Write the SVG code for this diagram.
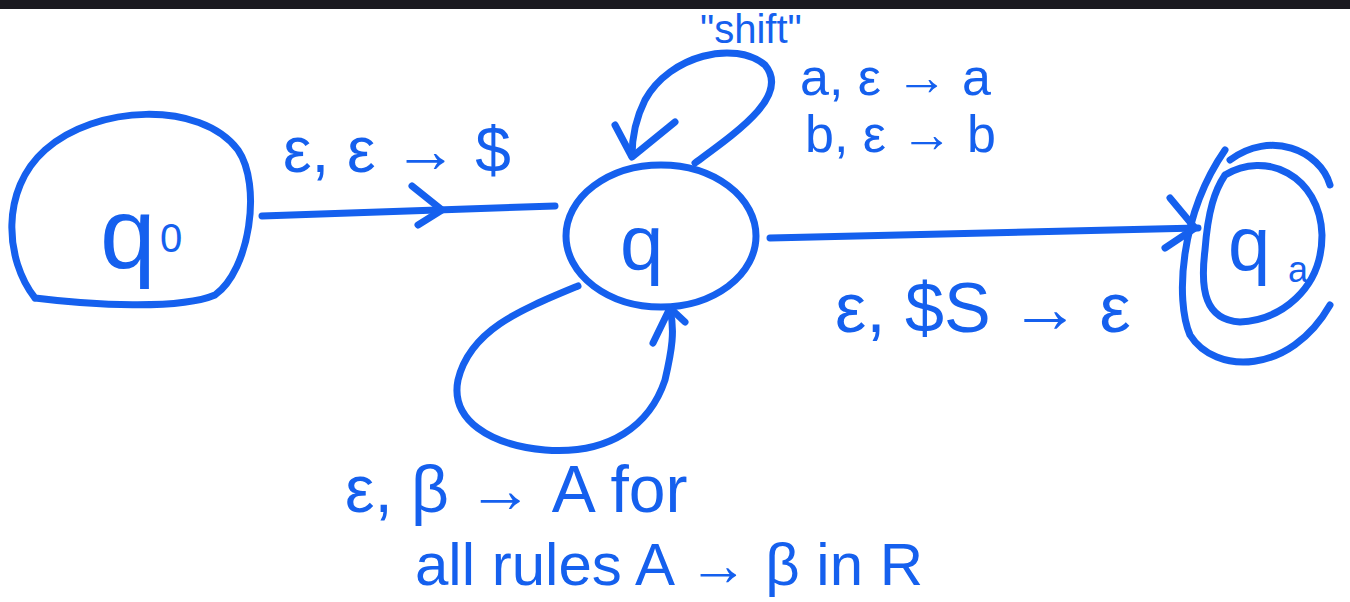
<svg xmlns="http://www.w3.org/2000/svg" width="1350" height="602" viewBox="0 0 1350 602">
<style>
.s{fill:none;stroke:#1560ee;stroke-width:7;stroke-linecap:round;stroke-linejoin:round}
.t{fill:#1560ee;font-family:"Liberation Sans",Arial,sans-serif}
</style>
<rect x="0" y="0" width="1350" height="602" fill="#ffffff"/>
<g id="q0">
<path class="s" d="M35 298 C5 260 0 190 45 150 C95 105 200 100 238 150 C262 185 250 270 215 295 C180 310 90 305 35 298"/>
<text class="t" x="100" y="268" font-size="100">q</text>
<text class="t" x="160" y="252" font-size="40">0</text>
</g>
<g id="q">
<ellipse class="s" cx="661" cy="236" rx="95" ry="71"/>
<text class="t" x="620" y="270" font-size="78">q</text>
</g>
<g id="qa">
<path class="s" d="M1225 150 C1180 215 1175 300 1190 335 C1215 375 1290 375 1330 305"/>
<path class="s" d="M1230 160 C1270 130 1320 150 1330 185"/>
<path class="s" d="M1225 175 C1265 150 1320 175 1322 235 C1322 290 1280 320 1240 322 C1205 320 1200 290 1205 250 C1208 210 1215 190 1225 175"/>
<text class="t" x="1228" y="270" font-size="76">q</text>
<text class="t" x="1288" y="282" font-size="36">a</text>
</g>
<g id="connectors">
<path class="s" d="M262 216 L555 206"/>
<path class="s" d="M412 186 L442 210 L418 225"/>
<path class="s" d="M770 238 L1198 228"/>
<path class="s" d="M1170 198 L1195 228 L1165 248"/>
<path class="s" d="M695 163 C740 130 790 95 765 65 C735 40 670 55 645 100 C635 120 632 140 632 156"/>
<path class="s" d="M615 125 L632 157 L675 122"/>
<path class="s" d="M578 286 C520 310 470 330 458 380 C450 420 490 445 545 450 C610 455 650 425 665 380 C672 350 675 330 670 310"/>
<path class="s" d="M653 343 L670 308 L685 322"/>
</g>
<g id="labels">
<text class="t" x="283" y="172" font-size="64">ε, ε → $</text>
<text class="t" x="800" y="95" font-size="52">a, ε → a</text>
<text class="t" x="805" y="152" font-size="52">b, ε → b</text>
<text class="t" x="835" y="332" font-size="70">ε, $S → ε</text>
<text class="t" x="345" y="512" font-size="66">ε, β → A for</text>
<text class="t" x="415" y="585" font-size="60">all rules A → β in R</text>
<text class="t" x="700" y="43" font-size="40">"shift"</text>
</g>
<rect x="0" y="0" width="1350" height="9" fill="#1b1a20"/>
</svg>
